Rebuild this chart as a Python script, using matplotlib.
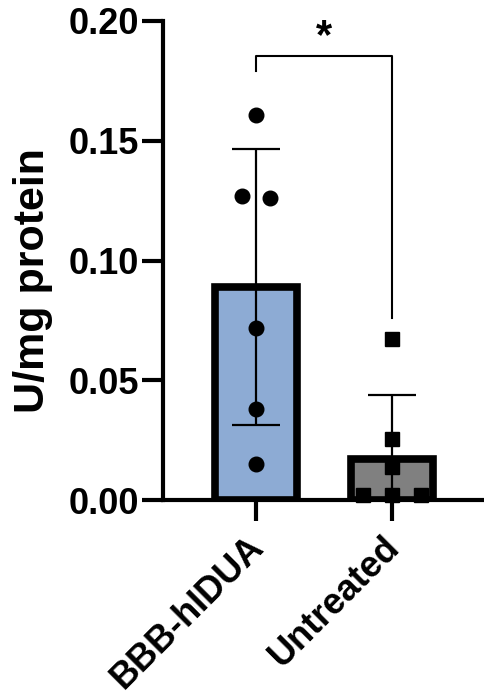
import matplotlib
matplotlib.use('Agg')
import matplotlib.pyplot as plt
from matplotlib.transforms import ScaledTranslation

# group summary (mean, SD)
groups = ['BBB-hIDUA', 'Untreated']
means = [0.0890, 0.0172]
sds = [0.0575, 0.0267]

# individual animals
bbb_points = [0.1606, 0.1271, 0.1260, 0.0717, 0.0380, 0.0150]
untreated_points = [0.0671, 0.0254, 0.0139, 0.0020, 0.0020, 0.0020]

# significance bracket
sig_label = '*'
yticks = [0.00, 0.05, 0.10, 0.15, 0.20]


def main():
    plt.rcParams['font.family'] = ['Liberation Sans', 'DejaVu Sans']
    plt.rcParams['font.weight'] = 'bold'

    fig = plt.figure(figsize=(4.84, 6.96), dpi=100)
    ax = fig.add_axes([163 / 484, 196 / 696, 321 / 484, 479 / 696])

    x = [0, 1]
    ax.bar(x, means, width=0.6, color=['#8dabd4', '#808080'],
           edgecolor='black', linewidth=5.5, zorder=2)
    ax.errorbar(x, means, yerr=sds, fmt='none', ecolor='black',
                elinewidth=1.6, capsize=17, capthick=1.6, zorder=3)

    # spread of the dots, as in the original figure
    bbb_jitter = [0, -0.10, 0.10, 0, 0, 0]
    unt_jitter = [0, 0, 0, -0.21, 0, 0.21]
    ax.plot([0 + j for j in bbb_jitter], bbb_points, 'o', color='black',
            markersize=10.5, zorder=4, clip_on=False)
    ax.plot([1 + j for j in unt_jitter], untreated_points, 's', color='black',
            markersize=10.5, zorder=4, clip_on=False)

    # bracket
    ax.plot([0, 0, 1, 1], [0.179, 0.1855, 0.1855, 0.076], color='black',
            linewidth=1.5, clip_on=False)
    ax.text(0.5, 0.185, sig_label, ha='center', va='bottom', fontsize=30,
            fontweight='bold')

    ax.set_xlim(-0.684, 1.676)
    ax.set_ylim(0, 0.2)
    ax.set_yticks(yticks)
    ax.set_yticklabels(['%.2f' % v for v in yticks], fontsize=26)
    ax.set_xticks(x)
    ax.set_xticklabels([])
    # rotated group names, nudged a bit left/down like the original
    shift = ScaledTranslation(-10 / 100, -29 / 100, fig.dpi_scale_trans)
    for xi, name in zip(x, groups):
        ax.text(xi, 0, name, fontsize=26, fontweight='bold', rotation=45,
                ha='right', va='top', rotation_mode='anchor',
                transform=ax.get_xaxis_transform() + shift)
    ax.set_ylabel('U/mg protein', fontsize=31, fontweight='bold')
    ax.yaxis.set_label_coords(-0.343, 0.459)

    ax.spines['top'].set_visible(False)
    ax.spines['right'].set_visible(False)
    ax.spines['left'].set_linewidth(3)
    ax.spines['bottom'].set_linewidth(3)
    ax.tick_params(width=3, length=15, pad=2)

    fig.savefig('out.png', dpi=100)


if __name__ == '__main__':
    main()
